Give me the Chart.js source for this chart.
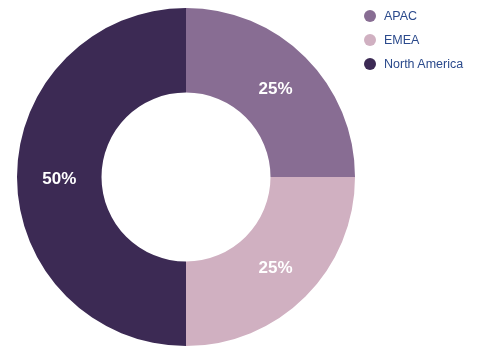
<!DOCTYPE html>
<html>
<head>
<meta charset="utf-8">
<script src="https://cdn.jsdelivr.net/npm/chart.js@4"></script>
<style>
  html, body { margin: 0; padding: 0; background: #fff; }
  #wrap { width: 484px; height: 347px; position: relative; }
  #legend { position: absolute; left: 364px; top: 10px; margin: 0; padding: 0; list-style: none;
            font: 12.5px "Liberation Sans", Arial, sans-serif; color: #2b4a8c; }
  #legend li { height: 12px; line-height: 12px; margin-bottom: 12px; white-space: nowrap; }
  #legend span { display: inline-block; width: 12px; height: 12px; border-radius: 50%;
                 vertical-align: top; margin-right: 8px; }
</style>
</head>
<body>
<div id="wrap">
  <canvas id="regionChart"></canvas>
  <ul id="legend"></ul>
</div>
<script>
// Share by region
const regions = ['APAC', 'EMEA', 'North America'];
const shares = [25, 25, 50];
const regionColors = ['#886d93', '#d0b0c1', '#3c2a54'];

// Writes the percentage in the middle of each slice
const sliceLabels = {
    id: 'sliceLabels',
    afterDatasetsDraw(chart) {
        const ctx = chart.ctx;
        const meta = chart.getDatasetMeta(0);
        const total = shares.reduce((a, b) => a + b, 0);
        ctx.save();
        ctx.fillStyle = '#ffffff';
        ctx.font = 'bold 17px "Liberation Sans", Arial, sans-serif';
        ctx.textAlign = 'center';
        ctx.textBaseline = 'middle';
        meta.data.forEach((arc, i) => {
            const pos = arc.tooltipPosition();
            ctx.fillText(Math.round(shares[i] / total * 100) + '%', pos.x, pos.y + 2);
        });
        ctx.restore();
    }
};

const chart = new Chart(document.getElementById('regionChart'), {
    type: 'doughnut',
    data: {
        labels: regions,
        datasets: [{
            data: shares,
            backgroundColor: regionColors,
            borderWidth: 0
        }]
    },
    options: {
        responsive: true,
        maintainAspectRatio: false,
        animation: false,
        cutout: '50%',
        layout: { padding: { top: 8, bottom: 1, left: 17, right: 129 } },
        plugins: {
            legend: { display: false },
            tooltip: { enabled: false }
        }
    },
    plugins: [sliceLabels]
});

// legend list built from the chart's own legend items
const legendEl = document.getElementById('legend');
chart.options.plugins.legend.labels.generateLabels(chart).forEach(item => {
    const li = document.createElement('li');
    const dot = document.createElement('span');
    dot.style.background = item.fillStyle;
    li.appendChild(dot);
    li.appendChild(document.createTextNode(item.text));
    legendEl.appendChild(li);
});
</script>
</body>
</html>
